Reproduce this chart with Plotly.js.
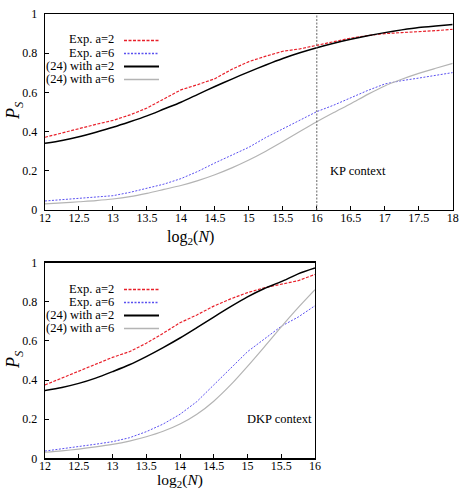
<!DOCTYPE html>
<html>
<head>
<meta charset="utf-8">
<script src="https://cdn.plot.ly/plotly-3.0.1.min.js"></script>
<style>
  html, body { margin: 0; padding: 0; background: #fff; }
  #chart { width: 462px; height: 490px; }
</style>
</head>
<body>
<div id="chart"></div>
<script>
// ---- KP context (top panel) ----
const kpLogN = [12, 12.25, 12.5, 12.75, 13, 13.25, 13.5, 13.75, 14, 14.25, 14.5, 14.75, 15,
                15.25, 15.5, 15.75, 16, 16.25, 16.5, 16.75, 17, 17.25, 17.5, 17.75, 18];
const kpExpA2 = [0.371, 0.393, 0.418, 0.437, 0.457, 0.485, 0.520, 0.565, 0.613, 0.640, 0.670, 0.718, 0.757,
                 0.785, 0.810, 0.822, 0.840, 0.860, 0.877, 0.890, 0.900, 0.905, 0.909, 0.915, 0.922];
const kpExpA6 = [0.046, 0.053, 0.060, 0.066, 0.073, 0.090, 0.110, 0.132, 0.160, 0.197, 0.240, 0.280, 0.320,
                 0.370, 0.415, 0.460, 0.502, 0.535, 0.573, 0.610, 0.643, 0.660, 0.673, 0.688, 0.701];
const kpModelA2 = [0.340, 0.355, 0.374, 0.397, 0.422, 0.450, 0.480, 0.515, 0.550, 0.590, 0.630, 0.668, 0.705,
                   0.740, 0.773, 0.802, 0.828, 0.851, 0.871, 0.889, 0.905, 0.919, 0.931, 0.939, 0.946];
const kpModelA6 = [0.031, 0.036, 0.042, 0.048, 0.056, 0.068, 0.085, 0.105, 0.125, 0.150, 0.180, 0.215, 0.255,
                   0.300, 0.349, 0.400, 0.450, 0.497, 0.542, 0.590, 0.633, 0.667, 0.697, 0.723, 0.748];
const kpMarker = 16;

// ---- DKP context (bottom panel) ----
const dkpLogN = [12, 12.25, 12.5, 12.75, 13, 13.25, 13.5, 13.75, 14, 14.25, 14.5, 14.75, 15, 15.25, 15.5, 15.75, 16];
const dkpExpA2 = [0.375, 0.410, 0.443, 0.480, 0.516, 0.545, 0.588, 0.639, 0.693, 0.733, 0.778, 0.815, 0.847,
                  0.872, 0.890, 0.908, 0.940];
const dkpExpA6 = [0.037, 0.048, 0.060, 0.072, 0.085, 0.105, 0.136, 0.175, 0.225, 0.290, 0.375, 0.460, 0.545,
                  0.610, 0.675, 0.722, 0.780];
const dkpModelA2 = [0.346, 0.362, 0.383, 0.410, 0.443, 0.478, 0.520, 0.566, 0.615, 0.668, 0.722, 0.775, 0.825,
                    0.868, 0.903, 0.943, 0.973];
const dkpModelA6 = [0.031, 0.038, 0.047, 0.058, 0.071, 0.088, 0.110, 0.138, 0.175, 0.225, 0.292, 0.375, 0.470,
                    0.570, 0.672, 0.770, 0.862];

const seriesNames = ['Exp. a=2', 'Exp. a=6', '(24) with a=2', '(24) with a=6'];
const yTicks = [0, 0.2, 0.4, 0.6, 0.8, 1];
const yTickText = ['0', '0.2', '0.4', '0.6', '0.8', '1'];

const FONT = 'Liberation Serif';
const styles = [
  { color: '#e8202a', width: 1.2, dash: '3px,1.5px', shape: 'linear' },
  { color: '#5a50f0', width: 1.0, dash: '2px,1.5px', shape: 'linear' },
  { color: '#000000', width: 1.5, dash: 'solid', shape: 'spline' },
  { color: '#b4b4b4', width: 1.2, dash: 'solid', shape: 'spline' }
];

function panel(x, ys, xa, ya) {
  return ys.map((y, i) => ({
    x: x, y: y, xaxis: xa, yaxis: ya, type: 'scatter', mode: 'lines',
    name: seriesNames[i], showlegend: false, hoverinfo: 'skip',
    line: { color: styles[i].color, width: styles[i].width, dash: styles[i].dash,
            shape: styles[i].shape, smoothing: 0.8 }
  }));
}

const traces = [
  ...panel(kpLogN, [kpExpA2, kpExpA6, kpModelA2, kpModelA6], 'x', 'y'),
  ...panel(dkpLogN, [dkpExpA2, dkpExpA6, dkpModelA2, dkpModelA6], 'x2', 'y2')
];

const W = 462, H = 490;
const px = v => v / W;
const py = v => 1 - v / H;

function xAxis(domain, range, anchor) {
  return {
    domain: domain, range: range, anchor: anchor, dtick: 0.5, tick0: 12,
    showgrid: false, zeroline: false, showline: true, mirror: true,
    linecolor: '#000', linewidth: 1.4, ticks: 'inside', ticklen: 4, tickwidth: 1, tickcolor: '#000',
    tickfont: { family: FONT, size: 12, color: '#000' }, ticklabelstandoff: -4
  };
}
function yAxis(domain, anchor) {
  return {
    domain: domain, range: [0, 1], anchor: anchor, tickvals: yTicks, ticktext: yTickText,
    showgrid: false, zeroline: false, showline: true, mirror: true,
    linecolor: '#000', linewidth: 1.4, ticks: 'inside', ticklen: 4, tickwidth: 1, tickcolor: '#000',
    tickfont: { family: FONT, size: 12, color: '#000' }, ticklabelstandoff: 4
  };
}

// legend built from text + sample lines, text right-aligned left of the sample
function legendItems(textY, lineY) {
  const ann = [], shp = [];
  textY.forEach((yy, i) => {
    ann.push({
      xref: 'paper', yref: 'paper', x: px(116), y: py(yy), xanchor: 'right', yanchor: 'middle',
      text: seriesNames[i], showarrow: false, font: { family: FONT, size: 12.5, color: '#000' }
    });
    shp.push({
      type: 'line', xref: 'paper', yref: 'paper', x0: px(124), x1: px(159),
      y0: py(lineY[i]), y1: py(lineY[i]),
      line: { color: styles[i].color, width: styles[i].width + 0.4, dash: styles[i].dash }
    });
  });
  return { ann, shp };
}
const legTop = legendItems([39.3, 52.6, 65.8, 79.0], [40.5, 53.5, 66.5, 79.5]);
const legBot = legendItems([288.8, 302.0, 315.2, 328.4], [289.5, 302.5, 315.5, 328.5]);

const layout = {
  width: W, height: H,
  margin: { l: 0, r: 0, t: 0, b: 0 },
  paper_bgcolor: '#fff', plot_bgcolor: '#fff',
  showlegend: false,
  font: { family: FONT, color: '#000' },
  xaxis: xAxis([px(45), px(452.7)], [12, 18], 'y'),
  yaxis: yAxis([py(210), py(14)], 'x'),
  xaxis2: xAxis([px(45), px(315)], [12, 16], 'y2'),
  yaxis2: yAxis([py(458.3), py(262.7)], 'x2'),
  shapes: [
    ...legTop.shp, ...legBot.shp,
    { type: 'line', xref: 'x', yref: 'y domain', x0: kpMarker, x1: kpMarker, y0: 0, y1: 1,
      line: { color: '#666', width: 1, dash: '2px,1.5px' } }
  ],
  annotations: [
    { xref: 'paper', yref: 'paper', x: px(190), y: py(237), xanchor: 'center', yanchor: 'middle',
      text: 'log<sub>2</sub>(<i>N</i>)', showarrow: false, font: { family: FONT, size: 16, color: '#000' } },
    { xref: 'paper', yref: 'paper', x: px(180), y: py(480.5), xanchor: 'center', yanchor: 'middle',
      text: 'log<sub>2</sub>(<i>N</i>)', showarrow: false, font: { family: FONT, size: 15.5, color: '#000' } },
    { xref: 'paper', yref: 'paper', x: px(14), y: py(111), xanchor: 'center', yanchor: 'middle', textangle: -90,
      text: '<i>P</i><sub><i>S</i></sub>', showarrow: false, font: { family: FONT, size: 18, color: '#000' } },
    { xref: 'paper', yref: 'paper', x: px(14), y: py(360), xanchor: 'center', yanchor: 'middle', textangle: -90,
      text: '<i>P</i><sub><i>S</i></sub>', showarrow: false, font: { family: FONT, size: 18, color: '#000' } },
    { xref: 'x', yref: 'y', x: 16.6, y: 0.2, xanchor: 'center', yanchor: 'middle',
      text: 'KP context', showarrow: false, font: { family: FONT, size: 12.5, color: '#000' } },
    { xref: 'x2', yref: 'y2', x: 15.48, y: 0.2, xanchor: 'center', yanchor: 'middle',
      text: 'DKP context', showarrow: false, font: { family: FONT, size: 12.5, color: '#000' } },
    ...legTop.ann, ...legBot.ann
  ]
};

Plotly.newPlot('chart', traces, layout, { staticPlot: true, displayModeBar: false });
</script>
</body>
</html>
